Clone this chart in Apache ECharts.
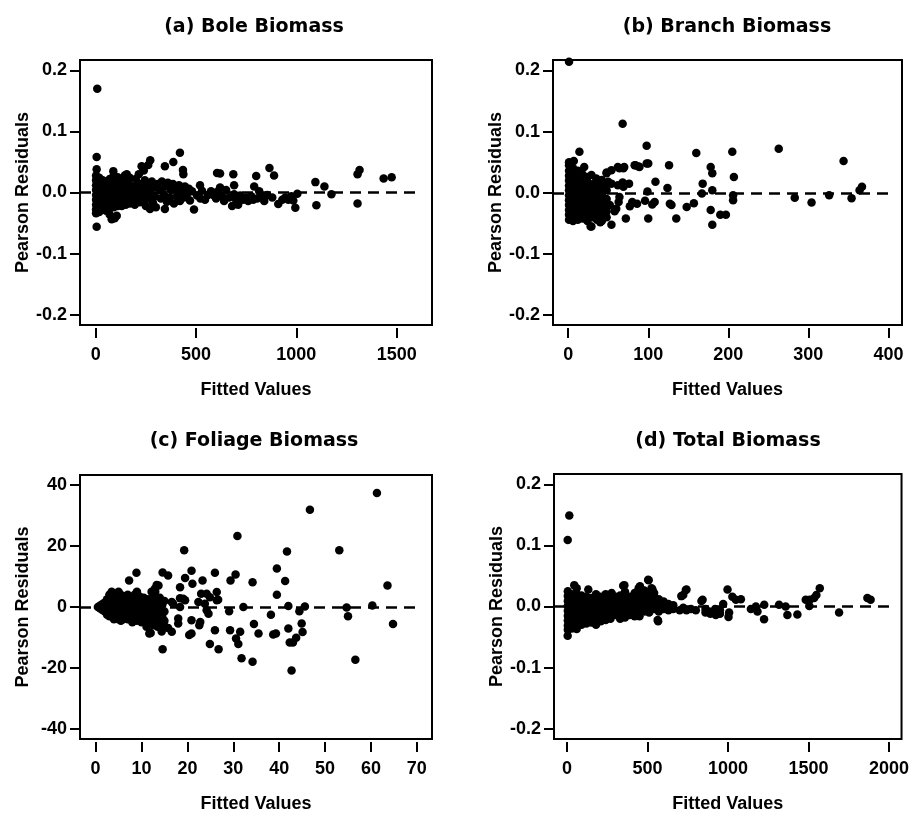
<!DOCTYPE html>
<html>
<head>
<meta charset="utf-8">
<script src="https://cdn.jsdelivr.net/npm/echarts@6/dist/echarts.min.js"></script>
<style>html,body{margin:0;padding:0;background:#fff;}#c{width:912px;height:814px;}</style>
</head>
<body>
<div id="c"></div>
<script>
// ---------- DATA ----------
const titles = ['(a) Bole Biomass', '(b) Branch Biomass', '(c) Foliage Biomass', '(d) Total Biomass'];
const xAxisName = 'Fitted Values';
const yAxisName = 'Pearson Residuals';

const xTicksA = [0, 500, 1000, 1500];
const xTicksB = [0, 100, 200, 300, 400];
const xTicksC = [0, 10, 20, 30, 40, 50, 60, 70];
const xTicksD = [0, 500, 1000, 1500, 2000];
const yTicksRes = [-0.2, -0.1, 0.0, 0.1, 0.2];
const yTicksC = [-40, -20, 0, 20, 40];

// reference line (y = 0) right end for each panel
const refEnd = [1600, 400, 70, 2000];

const boleData = [
[8,0.17],[5,0.058],[5,0.038],[5,-0.056],[272,0.053],[345,0.043],[387,0.05],[420,0.065],[435,0.037],[437,0.03],
[490,-0.028],[520,0.012],[522,-0.01],[605,0.032],[620,0.031],[620,0.008],[590,-0.005],[686,0.03],[690,0.012],[680,-0.022],
[800,0.027],[790,0.01],[866,0.04],[889,0.028],[880,-0.008],[910,-0.019],[985,-0.013],[995,-0.025],[1005,-0.002],
[1095,0.017],[1100,-0.021],[1140,0.01],[1175,-0.003],[1305,0.03],[1315,0.037],[1305,-0.018],[1435,0.023],[1475,0.025],
[80,-0.044],[105,-0.038],[271,-0.027],[345,-0.027],[88,0.035],[155,0.03],[229,0.043],[188,-0.011],
[2,0.028],[2,0.02],[2,0.012],[2,0.004],[2,-0.004],[2,-0.012],[2,-0.02],[2,-0.028],[2,-0.034],
[18,0.024],[18,0.016],[18,0.008],[18,0],[18,-0.008],[18,-0.016],[18,-0.024],[18,-0.032],
[35,0.02],[35,0.012],[35,0.004],[35,-0.004],[35,-0.012],[35,-0.02],[35,-0.028],
[52,0.018],[52,0.01],[52,0.002],[52,-0.006],[52,-0.014],[52,-0.022],[52,-0.03],
[70,0.022],[70,0.014],[70,0.006],[70,-0.002],[70,-0.01],[70,-0.018],[70,-0.026],[70,-0.036],
[90,0.028],[90,0.02],[90,0.01],[90,0.002],[90,-0.006],[90,-0.014],[90,-0.024],[95,-0.042],
[110,0.025],[110,0.015],[110,0.005],[110,-0.005],[110,-0.015],[110,-0.022],
[130,0.02],[130,0.011],[130,0.002],[130,-0.006],[130,-0.014],[130,-0.022],
[145,0.028],[150,0.016],[150,0.006],[150,-0.004],[150,-0.012],[150,-0.02],
[170,0.024],[170,0.013],[170,0.003],[170,-0.008],[170,-0.018],
[195,0.01],[195,0.0],[195,-0.01],[195,-0.02],[200,0.022],
[215,0.03],[220,0.014],[220,0.004],[220,-0.006],[220,-0.016],
[240,0.036],[245,0.02],[245,0.008],[245,-0.002],[245,-0.012],[250,-0.022],
[262,0.045],[265,0.012],[270,0.002],[268,-0.01],[280,0.018],[290,0.008],[295,-0.006],[285,-0.016],[300,-0.024],
[310,0.014],[320,0.004],[325,-0.01],[330,0.018],[340,-0.003],[350,0.01],[355,-0.015],[360,0.016],
[370,-0.008],[375,0.004],[385,0.014],[390,-0.018],[400,0.006],[405,-0.006],[415,0.012],[420,-0.014],[430,0.002],
[440,-0.008],[445,0.01],[455,-0.003],[465,0.006],[470,-0.013],[480,0.002],
[505,-0.005],[530,0.003],[545,-0.012],[560,-0.004],[575,0.002],[600,-0.01],[610,0.002],[630,-0.006],[640,-0.014],
[650,0.004],[665,-0.008],[690,-0.003],[700,-0.012],[710,-0.02],[720,-0.005],[735,-0.012],[750,-0.008],[760,-0.014],
[775,-0.006],[785,-0.012],[805,-0.01],[815,0.002],[830,-0.006],[840,-0.014],[855,-0.004],
[930,-0.012],[945,-0.008],[960,-0.012],[975,-0.006]
];

const branchData = [
[1,0.214],[68,0.113],[98,0.077],[160,0.065],[205,0.067],[263,0.072],[344,0.052],[367,0.01],[364,0.004],[354,-0.009],
[326,-0.004],[304,-0.016],[283,-0.008],[207,0.026],[206,-0.004],[206,-0.012],[190,-0.036],[197,-0.036],[178,-0.028],
[180,-0.052],[178,0.042],[180,0.032],[180,0.004],[168,0.015],[167,-0.001],[157,-0.017],[148,-0.023],[135,-0.042],
[126,0.045],[124,0.008],[127,-0.018],[129,-0.02],[109,0.018],[108,-0.015],[105,-0.019],[100,0.048],[99,0.002],
[100,-0.042],[96,-0.013],[84,0.045],[88,0.043],[72,-0.042],[64,0.04],[70,0.042],[68,0.017],[64,-0.007],[63,-0.015],
[60,-0.026],[54,-0.052],[48,0.033],[50,0.018],[48,-0.01],[52,-0.02],[28,-0.055],[14,0.067],[1,0.05],[7,0.052],[20,0.042],
[29,0.029],[35,0.0235],[42,0.021],[48,0.032],[54,0.037],[62,0.042],[69,0.04],[83,0.045],[89,0.042],[98,0.048],
[46,0.0125],[54,0.015],[62,0.0125],[69,0.01],[76,0.015],[80,-0.015],[77,-0.022],[86,-0.018],[58,-0.03],[44,-0.04],
[29,-0.055],[40,-0.048],[36,-0.03],[33,-0.012],
[1,0.045],[1,0.036],[1,0.028],[1,0.02],[1,0.012],[1,0.004],[1,-0.004],[1,-0.012],[1,-0.02],[1,-0.028],[1,-0.036],[1,-0.044],
[6,0.04],[6,0.032],[6,0.024],[6,0.016],[6,0.008],[6,0],[6,-0.008],[6,-0.016],[6,-0.024],[6,-0.032],[6,-0.04],[6,-0.046],
[12,0.036],[12,0.028],[12,0.02],[12,0.012],[12,0.004],[12,-0.004],[12,-0.012],[12,-0.02],[12,-0.028],[12,-0.036],[12,-0.044],
[18,0.03],[18,0.022],[18,0.014],[18,0.006],[18,-0.002],[18,-0.01],[18,-0.018],[18,-0.026],[18,-0.034],[18,-0.042],
[24,0.026],[24,0.018],[24,0.01],[24,0.002],[24,-0.006],[24,-0.014],[24,-0.022],[24,-0.03],[24,-0.038],[24,-0.046],
[30,0.014],[30,0.004],[30,-0.008],[30,-0.018],[30,-0.028],[30,-0.04],
[36,0.02],[36,0.008],[36,-0.004],[36,-0.014],[36,-0.026],[36,-0.036],[36,-0.044],
[42,0.01],[42,-0.002],[42,-0.012],[42,-0.022],[42,-0.034],[42,-0.046],
[48,0.004],[48,-0.018],[48,-0.03],[48,-0.04]
];

const foliageData = [
[61.3,37.3],[46.7,31.8],[30.9,23.2],[19.3,18.6],[53.1,18.6],[41.7,18.2],[39.5,12.6],[41.3,8.5],[63.6,7.0],[39.5,4],
[38.2,-2.5],[38.7,-9],[39.3,-8.7],[42,0.3],[42,-7],[42.3,-11.6],[43,-11.6],[43.7,-10.1],[42.7,-20.8],[44.4,-1.4],
[44.9,-5.4],[45.1,-8.2],[45.6,0.2],[54.7,-0.2],[55,-3],[56.6,-17.3],[60.3,0.5],[64.8,-5.6],[34.2,8.1],[34.5,-5.6],
[35.5,-8.7],[34.2,-17.9],[31.8,-16.8],[32.2,0],[31.5,-8.1],[31.1,-12.1],[30.6,-10.3],[30.5,10.6],[29.4,8.7],[29.3,-7.6],
[29.1,-1.4],[26,11.2],[26.4,4.9],[26.4,2.2],[26.7,2.4],[26,-7.6],[26.8,-13.8],[24.9,-12.1],[23.3,8.7],[20.9,11.9],
[19.5,9.5],[21.1,7.6],[18.4,6.5],[18.4,2.9],[18,-3.8],[18,-5.4],[20.4,-9.2],[20.9,-8.7],[20.9,-4.3],[22.4,1.6],
[22.8,-4.9],[22.6,-6],[23.8,1.1],[24.2,-1.1],[24.6,-2.2],[23,4.3],[24.2,4.3],[24.9,3.2],[19.5,2.2],[19.1,2.7],
[18.4,0],[16.9,1.1],[16.6,1.6],[16.6,-8.1],[14.6,11.3],[15.8,10.3],[14.6,-13.8],[13.7,7],[12.9,6],[12.6,4.9],
[14.8,-5.4],[14,-6.5],[13.7,-4.9],[11.7,-8.7],[11.1,-6.5],[8.9,11.2],[7.3,8.7],[13.3,7.2],[12.2,5],[11.8,-3.7],
[12.6,-5.3],[14.4,-8],[15.8,-6.9],
[0.5,0],[1,0.5],[1,-0.5],[1.5,1],[1.5,-1],[2,1.5],[2,0],[2,-1.5],[2.5,2.5],[2.5,0.8],[2.5,-0.8],[2.5,-2.5],
[3,4],[3,2],[3,0],[3,-2],[3,-3],[3.5,5],[3.5,3],[3.5,1],[3.5,-1],[3.5,-3],[4,4],[4,2],[4,0],[4,-2],[4,-4],
[4.5,3],[4.5,1],[4.5,-1],[4.5,-3],[5,5],[5,3.5],[5,2],[5,0.5],[5,-1],[5,-2.5],[5,-4],[5.5,4],[5.5,1.5],[5.5,-1.5],
[5.5,-3.5],[5.5,-4.5],[6,2.5],[6,0],[6,-2],[6,-4],[6.5,3.5],[6.5,1],[6.5,-1],[6.5,-3],[7,4],[7,2],[7,0],[7,-2],[7,-4],
[7.5,3],[7.5,0.5],[7.5,-1.5],[7.5,-3.5],[8,2],[8,1],[8,-0.5],[8,-2.5],[8,-5],[8.5,4],[8.5,1.5],[8.5,-1],[8.5,-3.5],
[9,5],[9,2.5],[9,0],[9,-2],[9,-4.5],[9.5,3.5],[9.5,1],[9.5,-1.5],[9.5,-3.5],[10,2],[10,-0.5],[10,-3],[10,-5],
[10.5,3],[10.5,0.5],[10.5,-2],[10.5,-4],[11,1.5],[11,-1],[11,-3.5],[11.5,2.5],[11.5,0],[11.5,-2.5],[11.5,-5],
[12,1],[12,-1.5],[12,-4],[12,-8.5],[12.5,3],[12.5,0],[12.5,-3],[12.5,-6],[13,5],[13,2],[13,-1],[13,-4],
[13.5,1],[13.5,-2],[13.5,-6.5],[14,3],[14,-1],[14,-3.5],[14.5,0.5],[14.5,-3],[15,2],[15,-1.5],[15,-4.5]
];

const totalData = [
[14,0.149],[4,0.109],[4,-0.048],[45,0.035],[507,0.043],[531,0.028],[541,0.022],[563,-0.022],[356,0.035],[445,0.03],
[459,0.024],[470,0.016],[738,0.027],[722,0.019],[710,0.017],[842,0.011],[997,0.028],[1003,-0.017],[1007,-0.01],
[1027,0.016],[1049,0.011],[1080,0.012],[883,-0.008],[924,-0.014],[1142,-0.004],[1173,0],[1183,-0.008],[1225,0.003],
[1224,-0.021],[1317,0.003],[1358,0],[1369,-0.014],[1431,-0.013],[1483,0.011],[1508,0.011],[1535,0.014],[1549,0.019],
[1570,0.03],[1690,-0.01],[1866,0.014],[1886,0.011],[1505,0.001],[132,0.028],[277,0.022],[349,0.034],[453,0.033],
[504,0.044],[525,0.03],[566,-0.024],[742,0.028],[835,0.009],
[5,0.025],[5,0.017],[5,0.009],[5,0.001],[5,-0.007],[5,-0.015],[5,-0.023],[5,-0.031],[5,-0.038],
[30,0.02],[30,0.012],[30,0.004],[30,-0.004],[30,-0.012],[30,-0.02],[30,-0.028],[30,-0.036],
[60,0.03],[60,0.02],[60,0.012],[60,0.004],[60,-0.004],[60,-0.012],[60,-0.02],[60,-0.03],[60,-0.037],
[90,0.018],[90,0.01],[90,0.002],[90,-0.006],[90,-0.014],[90,-0.022],[90,-0.03],
[120,0.016],[120,0.006],[120,-0.004],[120,-0.012],[120,-0.02],[120,-0.028],
[150,0.014],[150,0.006],[150,-0.002],[150,-0.01],[150,-0.018],[150,-0.026],
[180,0.02],[180,0.01],[180,0.002],[180,-0.006],[180,-0.014],[180,-0.022],[180,-0.03],
[210,0.016],[210,0.008],[210,0],[210,-0.008],[210,-0.016],[210,-0.024],
[240,0.02],[240,0.01],[240,0.002],[240,-0.006],[240,-0.014],[240,-0.022],
[270,0.012],[270,0.004],[270,-0.004],[270,-0.012],[270,-0.02],
[300,0.016],[300,0.006],[300,-0.004],[300,-0.014],
[330,0.018],[330,0.008],[330,-0.002],[330,-0.012],[330,-0.02],
[360,0.024],[360,0.012],[360,0.002],[360,-0.008],[360,-0.018],
[390,0.016],[390,0.006],[390,-0.004],[390,-0.014],
[420,0.022],[420,0.01],[420,0],[420,-0.01],[420,-0.016],
[450,0.024],[450,0.014],[450,0.004],[450,-0.006],[450,-0.016],
[480,0.026],[480,0.012],[480,0.002],[480,-0.008],
[510,0.02],[510,0.008],[510,-0.002],[510,-0.01],
[540,0.016],[540,0.006],[540,-0.004],
[570,0.012],[570,0.002],[570,-0.008],
[600,0.008],[600,-0.004],[630,0.004],[630,-0.006],[660,-0.004],[660,0.002],[700,-0.006],
[722,-0.002],[742,-0.006],[770,-0.004],[800,-0.006],[860,-0.01],[860,-0.004],[890,-0.012],
[920,-0.01],[920,-0.004],[950,-0.012],[950,-0.006],[970,0.004]
];

// ---------- LAYOUT ----------
const grids = [
  {left: 80, top: 60, width: 352, height: 265},
  {left: 553, top: 60, width: 349, height: 265},
  {left: 80, top: 475, width: 352, height: 265},
  {left: 554, top: 474, width: 348, height: 266}
];
const xRanges = [[-78, 1676], [-19, 417], [-3.4, 73.3], [-81, 2078]];
const yRanges = [[-0.217, 0.217], [-0.216, 0.217], [-43.2, 43.2], [-0.217, 0.217]];
const xTickSets = [xTicksA, xTicksB, xTicksC, xTicksD];
const yTickSets = [yTicksRes, yTicksRes, yTicksC, yTicksRes];
const datasets = [boleData, branchData, foliageData, totalData];
const titlePos = [[254, 27], [727, 27], [254, 441], [728, 441]];

const LBL = {color: '#000', fontFamily: 'Liberation Sans, Arial, sans-serif', fontWeight: 'bold', fontSize: 18};

const option = {
  backgroundColor: '#fff',
  animation: false,
  grid: grids.map(g => Object.assign({show: true, borderColor: '#000', borderWidth: 2, backgroundColor: 'transparent', containLabel: false}, g)),
  xAxis: grids.map((g, i) => ({
    type: 'value', gridIndex: i, min: xRanges[i][0], max: xRanges[i][1], offset: 3, position: 'bottom',
    name: xAxisName, nameLocation: 'middle', nameGap: 53, nameTextStyle: LBL,
    axisLine: {show: false, onZero: false},
    axisTick: {show: true, length: 10, lineStyle: {color: '#000', width: 2}, customValues: xTickSets[i]},
    axisLabel: Object.assign({margin: 18, customValues: xTickSets[i], formatter: v => String(v)}, LBL),
    splitLine: {show: false}
  })),
  yAxis: grids.map((g, i) => ({
    type: 'value', gridIndex: i, min: yRanges[i][0], max: yRanges[i][1], position: 'left',
    name: yAxisName, nameLocation: 'middle', nameGap: 48, nameTextStyle: LBL,
    axisLine: {show: false, onZero: false},
    axisTick: {show: true, length: 10, lineStyle: {color: '#000', width: 2}, customValues: yTickSets[i]},
    axisLabel: Object.assign({margin: 13, customValues: yTickSets[i],
      formatter: v => (i === 2 ? String(Math.round(v)) : (Math.round(v * 10) / 10).toFixed(1))}, LBL),
    splitLine: {show: false}
  })),
  graphic: titles.map((t, i) => ({
    type: 'text', x: titlePos[i][0], y: titlePos[i][1],
    style: {text: t, fill: '#000', textAlign: 'center', textVerticalAlign: 'middle',
      font: 'bold 19px "DejaVu Sans", sans-serif'}
  })),
  series: datasets.map((d, i) => ({
    type: 'scatter', xAxisIndex: i, yAxisIndex: i, data: d,
    symbol: 'circle', symbolSize: 8.5, itemStyle: {color: '#000', opacity: 1},
    silent: true, clip: true,
    markLine: {
      silent: true, symbol: ['none', 'none'], label: {show: false},
      lineStyle: {color: '#000', type: [11, 7], width: 2.5},
      data: [[{coord: [xRanges[i][0], 0]}, {coord: [refEnd[i], 0]}]]
    }
  }))
};

const chart = echarts.init(document.getElementById('c'), null, {renderer: 'canvas'});
chart.setOption(option);
</script>
</body>
</html>
